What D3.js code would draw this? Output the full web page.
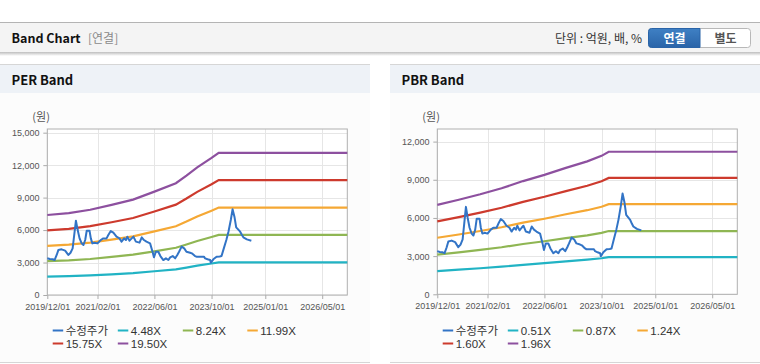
<!DOCTYPE html>
<html><head><meta charset="utf-8">
<script src="https://cdn.jsdelivr.net/npm/d3@7"></script>
<style>body{margin:0;background:#fff;} svg{display:block;}</style>
</head><body><svg id="c" width="760" height="364"></svg>
<script>
// ---------- DATA ----------
const priceDates = ["2019/12/01","2019/12/22","2020/01/16","2020/02/01","2020/02/19","2020/03/04","2020/04/01","2020/05/01","2020/05/28","2020/06/16","2020/07/04","2020/08/01","2020/08/16","2020/09/01","2020/09/19","2020/10/04","2020/10/19","2020/11/01","2020/11/25","2020/12/06","2020/12/19","2021/01/07","2021/02/01","2021/03/01","2021/03/22","2021/04/19","2021/05/04","2021/05/25","2021/06/16","2021/07/13","2021/08/07","2021/08/25","2021/09/16","2021/10/01","2021/10/13","2021/11/01","2021/11/19","2021/12/04","2021/12/25","2022/01/25","2022/02/13","2022/03/04","2022/03/25","2022/04/25","2022/05/16","2022/05/28","2022/06/13","2022/07/04","2022/07/22","2022/08/16","2022/09/07","2022/09/28","2022/10/13","2022/11/04","2022/11/25","2022/12/13","2022/12/28","2023/01/19","2023/02/10","2023/03/01","2023/04/01","2023/04/16","2023/05/13","2023/05/25","2023/06/25","2023/07/28","2023/08/07","2023/08/28","2023/09/19","2023/09/25","2023/10/16","2023/11/13","2023/12/10","2023/12/25","2024/01/16","2024/02/04","2024/02/22","2024/03/13","2024/03/28","2024/04/13","2024/04/28","2024/06/01","2024/06/16","2024/06/28","2024/07/28","2024/09/04"];
const priceValues = [3390,3330,3300,3230,3700,4150,4220,4100,3700,3910,4310,6870,6000,5230,4770,4620,5080,5940,5940,5230,4770,4830,4770,5080,5230,5230,5540,5910,5760,5390,5230,4930,5230,5080,5390,5020,5230,5390,4930,4840,5330,5080,4930,4770,4000,3480,4000,4000,3600,3230,3390,3230,3480,3600,3390,3700,4000,4470,4310,4000,3910,3850,3600,3540,3540,3540,3390,3300,3230,2990,3300,3540,3560,3600,4400,5080,5850,6930,7920,7240,6250,5850,5540,5330,5140,5020];

const perBandDates = ["2019/12/01","2020/06/01","2020/12/01","2021/06/01","2021/12/01","2022/06/01","2022/12/01","2023/03/01","2023/06/01","2023/10/01","2023/12/01","2026/12/01"];
const perLabels = ["4.48X","8.24X","11.99X","15.75X","19.50X"];
const per448  = [1698,1738,1810,1913,2025,2195,2374,2536,2710,2912,3020,3020];
const per824  = [3123,3197,3329,3518,3724,4038,4367,4664,4985,5356,5554,5554];
const per1199 = [4544,4652,4844,5120,5419,5875,6355,6786,7254,7794,8081,8081];
const per1575 = [5969,6111,6363,6725,7119,7718,8348,8915,9529,10238,10616,10616];
const per1950 = [7391,7566,7878,8327,8814,9555,10335,11037,11798,12675,13143,13143];

const pbrBandDates = ["2019/12/01","2020/06/01","2020/12/01","2021/06/01","2021/12/01","2022/06/01","2022/12/01","2023/06/01","2023/10/01","2023/12/01","2026/12/01"];
const pbrLabels = ["0.51X","0.87X","1.24X","1.60X","1.96X"];
const pbr051 = [1828,1933,2045,2168,2315,2443,2586,2718,2831,2915,2915];
const pbr087 = [3119,3297,3489,3698,3950,4167,4411,4637,4829,4972,4972];
const pbr124 = [4445,4700,4972,5270,5630,5940,6287,6609,6882,7087,7087];
const pbr160 = [5736,6064,6416,6800,7264,7664,8112,8528,8880,9144,9144];
const pbr196 = [7027,7428,7860,8330,8898,9388,9937,10447,10878,11201,11201];

const priceLabel = "수정주가";
const xTickLabels = ["2019/12/01","2021/02/01","2022/06/01","2023/10/01","2025/01/01","2026/05/01"];
const xDomain = ["2019/12/01","2026/12/01"];
const perYTicks = [0,3000,6000,9000,12000,15000];
const pbrYTicks = [0,3000,6000,9000,12000];

// ---------- STYLE ----------
const priceColor = "#3274c6";
const bandColors = ["#21b3c4","#8fb653","#f5a834","#cd3a2d","#8d509f"];
const latin = "'Liberation Sans', Arial, 'Noto Sans CJK KR', sans-serif";
const kr = "'Noto Sans CJK KR', 'Noto Sans', sans-serif";

const parse = d3.timeParse("%Y/%m/%d");
const svg = d3.select("#c");

// ---------- PAGE CHROME ----------
const defs = svg.append("defs");
const sh = defs.append("linearGradient").attr("id","sh").attr("x1",0).attr("y1",0).attr("x2",0).attr("y2",1);
sh.append("stop").attr("offset","0%").attr("stop-color","#bdbdbd");
sh.append("stop").attr("offset","100%").attr("stop-color","#ffffff");
const bg = defs.append("linearGradient").attr("id","btn").attr("x1",0).attr("y1",0).attr("x2",0).attr("y2",1);
bg.append("stop").attr("offset","0%").attr("stop-color","#3f80c4");
bg.append("stop").attr("offset","100%").attr("stop-color","#2a64a8");

svg.append("rect").attr("x",0).attr("y",22).attr("width",760).attr("height",1).attr("fill","#b4b4b4");
svg.append("rect").attr("x",0).attr("y",23).attr("width",760).attr("height",29).attr("fill","#f4f4f4");
svg.append("rect").attr("x",0).attr("y",52).attr("width",760).attr("height",4).attr("fill","url(#sh)");
svg.append("text").attr("x",11.5).attr("y",43).attr("font-family",kr).attr("font-weight","bold")
  .attr("font-size",12.5).attr("fill","#111").text("Band Chart");
svg.append("text").attr("x",88).attr("y",43).attr("font-family",kr)
  .attr("font-size",12).attr("fill","#8a8a8a").text("[연결]");
svg.append("text").attr("x",642).attr("y",43).attr("text-anchor","end").attr("font-family",kr)
  .attr("font-size",12).attr("fill","#333").text("단위 : 억원, 배, %");
svg.append("rect").attr("x",648.5).attr("y",28.5).attr("width",102).attr("height",19).attr("rx",3)
  .attr("fill","#fff").attr("stroke","#b8b8b8");
svg.append("path").attr("d","M651.5,28.5 H700 V47.5 H651.5 A3,3 0 0 1 648.5,44.5 V31.5 A3,3 0 0 1 651.5,28.5 Z")
  .attr("fill","url(#btn)").attr("stroke","#2a64a8");
svg.append("text").attr("x",674.5).attr("y",42.5).attr("text-anchor","middle").attr("font-family",kr)
  .attr("font-weight","bold").attr("font-size",12).attr("fill","#fff").text("연결");
svg.append("text").attr("x",725.5).attr("y",42.5).attr("text-anchor","middle").attr("font-family",kr)
  .attr("font-weight","bold").attr("font-size",12).attr("fill","#555").text("별도");

function panel(x0, w, title) {
  svg.append("rect").attr("x",x0).attr("y",64).attr("width",w).attr("height",1).attr("fill","#d6d6d6");
  svg.append("rect").attr("x",x0).attr("y",65).attr("width",w).attr("height",28).attr("fill","#eef2f7");
  svg.append("rect").attr("x",x0).attr("y",93).attr("width",w).attr("height",269).attr("fill","#fcfcfc");
  svg.append("rect").attr("x",x0).attr("y",362).attr("width",w).attr("height",1).attr("fill","#d6d6d6");
  svg.append("text").attr("x",x0+11.5).attr("y",85).attr("font-family",kr).attr("font-weight","bold")
    .attr("font-size",13).attr("fill","#111").text(title);
}
panel(0, 370, "PER Band");
panel(390, 370, "PBR Band");

// ---------- CHART ----------
function chart(cfg) {
  const x = d3.scaleTime().domain(xDomain.map(parse)).range([cfg.left, cfg.left + 300]);
  const y = d3.scaleLinear().domain([0, cfg.yMax]).range([cfg.bottom, cfg.top]);
  const g = svg.append("g");
  g.append("rect").attr("x",cfg.left).attr("y",cfg.top).attr("width",300).attr("height",cfg.bottom-cfg.top).attr("fill","#fff");
  const xt = xTickLabels.map(parse);
  g.selectAll(".gx").data(xt).join("line")
    .attr("x1",d=>Math.round(x(d))+0.5).attr("x2",d=>Math.round(x(d))+0.5)
    .attr("y1",cfg.top).attr("y2",cfg.bottom).attr("stroke","#e6e6e6");
  g.selectAll(".gy").data(cfg.yTicks).join("line")
    .attr("x1",cfg.left).attr("x2",cfg.left+300)
    .attr("y1",d=>Math.round(y(d))+0.5).attr("y2",d=>Math.round(y(d))+0.5).attr("stroke","#e6e6e6");
  const ax = d3.axisBottom(x).tickValues(xt).tickFormat(d3.timeFormat("%Y/%m/%d")).tickSize(4).tickSizeOuter(0);
  const gx = g.append("g").attr("transform",`translate(0,${cfg.bottom})`).call(ax);
  gx.selectAll("text").attr("font-family",latin).attr("font-size",9).attr("fill","#555").attr("dy","0.9em");
  const ay = d3.axisLeft(y).tickValues(cfg.yTicks).tickFormat(d3.format(",")).tickSize(4).tickSizeOuter(0);
  const gy = g.append("g").attr("transform",`translate(${cfg.left},0)`).call(ay);
  gy.selectAll("text").attr("font-family",latin).attr("font-size",9).attr("fill","#555").attr("dx","-0.1em");
  g.selectAll(".domain").remove();
  g.selectAll(".tick line").attr("stroke","#aaa");
  g.append("rect").attr("x",cfg.left).attr("y",cfg.top).attr("width",300).attr("height",cfg.bottom-cfg.top)
    .attr("fill","none").attr("stroke","#b0b0b0");
  g.append("text").attr("x",cfg.left-15).attr("y",cfg.top-8).attr("font-family",kr).attr("font-size",11)
    .attr("fill","#555").text("(원)");
  const bd = cfg.bandDates.map(parse);
  const line = d3.line().x(d=>x(d[0])).y(d=>y(d[1]));
  cfg.bands.forEach((vals,i)=>{
    g.append("path").datum(vals.map((v,j)=>[bd[j],v])).attr("d",line)
      .attr("fill","none").attr("stroke",bandColors[i]).attr("stroke-width",2.2);
  });
  const pd = priceDates.map(parse);
  g.append("path").datum(priceValues.map((v,j)=>[pd[j],v])).attr("d",line)
    .attr("fill","none").attr("stroke",priceColor).attr("stroke-width",2).attr("stroke-linejoin","round");
  const items = [[priceLabel,priceColor]].concat(cfg.labels.map((l,i)=>[l,bandColors[i]]));
  const cols = [5.4, 70.5, 135.5, 200];
  items.forEach((it,i)=>{
    const r = i < 4 ? 0 : 1, c = i < 4 ? i : i-4;
    const lx = cfg.left + cols[c], ly = r === 0 ? 330.5 : 343.5;
    g.append("line").attr("x1",lx).attr("x2",lx+10.5).attr("y1",ly).attr("y2",ly)
      .attr("stroke",it[1]).attr("stroke-width",2);
    g.append("text").attr("x",lx+13).attr("y",ly+4).attr("font-family",latin)
      .attr("font-size",11.5).attr("fill","#333").text(it[0]);
  });
}

chart({left:47.3, top:129, bottom:295, yMax:15340, yTicks:perYTicks, bandDates:perBandDates,
  bands:[per448,per824,per1199,per1575,per1950], labels:perLabels});
chart({left:437.3, top:129, bottom:294.3, yMax:12990, yTicks:pbrYTicks, bandDates:pbrBandDates,
  bands:[pbr051,pbr087,pbr124,pbr160,pbr196], labels:pbrLabels});
</script></body></html>
